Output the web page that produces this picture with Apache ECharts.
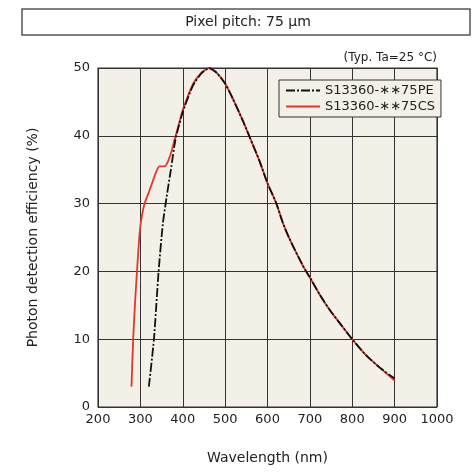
<!DOCTYPE html>
<html><head><meta charset="utf-8">
<script src="https://cdn.jsdelivr.net/npm/echarts@6/dist/echarts.min.js"></script>
<style>html,body{margin:0;padding:0;background:#fff}#c{width:472px;height:474px}</style>
</head><body><div id="c"></div>
<script>
const peWavelength = [320,332,343,353,362,372,383,400,424,444,462,480,500,518,542,558,581,600,621,636,652,683,700,723,747,775,800,833,865,900];
const peEfficiency = [3,10,20,27,31,35,39.5,43.5,47.4,49.2,50,49.3,47.7,45.5,42.2,39.8,36.3,33,30,27.2,24.8,20.9,19.1,16.6,14.3,12,10,7.6,5.8,4.2];
const csWavelength = [279,283,288,292,298,302,310,322,338,345,357,365,373,381,392,400,424,444,462,480,500,518,542,558,581,600,621,636,652,683,700,723,747,775,800,833,865,900];
const csEfficiency = [3,10,16,20,25.5,27.6,30,32,34.8,35.5,35.5,36.2,37.6,39.5,42,43.8,47.6,49.3,50,49.3,47.7,45.5,42.2,39.8,36.3,33,30,27.2,24.8,20.9,19.1,16.6,14.3,12,10,7.6,5.8,3.9];
const seriesNames = ['S13360-\u2217\u221775PE','S13360-\u2217\u221775CS'];
const xTicks = {min:200,max:1000,interval:100};
const yTicks = {min:0,max:50,interval:10};

const zip = (a,b)=>a.map((v,i)=>[v,b[i]]);
const FONT = 'DejaVu Sans';
const chart = echarts.init(document.getElementById('c'));
chart.setOption({
  animation:false,
  textStyle:{fontFamily:FONT},
  grid:{left:98,right:35,top:68,bottom:67,show:true,backgroundColor:'#f2f0e7',borderColor:'#333',borderWidth:1.2},
  xAxis:{type:'value',min:xTicks.min,max:xTicks.max,interval:xTicks.interval,
    name:'Wavelength (nm)',nameLocation:'middle',nameGap:44,
    nameTextStyle:{fontSize:14,color:'#222',fontFamily:FONT},
    axisLine:{show:false},axisTick:{show:false},
    axisLabel:{fontSize:13,color:'#222',margin:6,formatter:v=>String(v)},
    splitLine:{lineStyle:{color:'#333',width:1}}},
  yAxis:{type:'value',min:yTicks.min,max:yTicks.max,interval:yTicks.interval,
    name:'Photon detection efficiency (%)',nameLocation:'middle',nameGap:58,
    nameTextStyle:{fontSize:14,color:'#222',fontFamily:FONT},
    axisLine:{show:false},axisTick:{show:false},
    axisLabel:{fontSize:13,color:'#222',margin:8},
    splitLine:{lineStyle:{color:'#333',width:1}}},
  legend:{orient:'vertical',left:279,top:80,itemWidth:34,itemHeight:10,itemGap:3,
    padding:[4,6,4,6],borderColor:'#333',borderWidth:1,backgroundColor:'#f2f0e7',
    itemStyle:{opacity:0},
    textStyle:{fontSize:13,color:'#222',fontFamily:FONT},
    data:[seriesNames[0],seriesNames[1]]},
  graphic:[
    {type:'rect',shape:{x:22,y:9,width:448,height:26},style:{fill:'#fff',stroke:'#555',lineWidth:1.5}},
    {type:'text',x:248,y:22,style:{text:'Pixel pitch: 75 \u00b5m',fontSize:14,fontFamily:FONT,fill:'#222',align:'center',verticalAlign:'middle'}},
    {type:'text',x:437,y:58,style:{text:'(Typ. Ta=25 \u00b0C)',fontSize:12,fontFamily:FONT,fill:'#222',align:'right',verticalAlign:'middle'}}
  ],
  series:[
    {name:seriesNames[1],type:'line',data:zip(csWavelength,csEfficiency),smooth:0.2,symbol:'none',
      lineStyle:{color:'#e8352b',width:1.8},itemStyle:{color:'#e8352b'},z:2},
    {name:seriesNames[0],type:'line',data:zip(peWavelength,peEfficiency),smooth:0.2,symbol:'none',
      lineStyle:{color:'#111',width:1.8,type:[9,2,2,2]},itemStyle:{color:'#111'},z:3}
  ]
});
</script></body></html>
